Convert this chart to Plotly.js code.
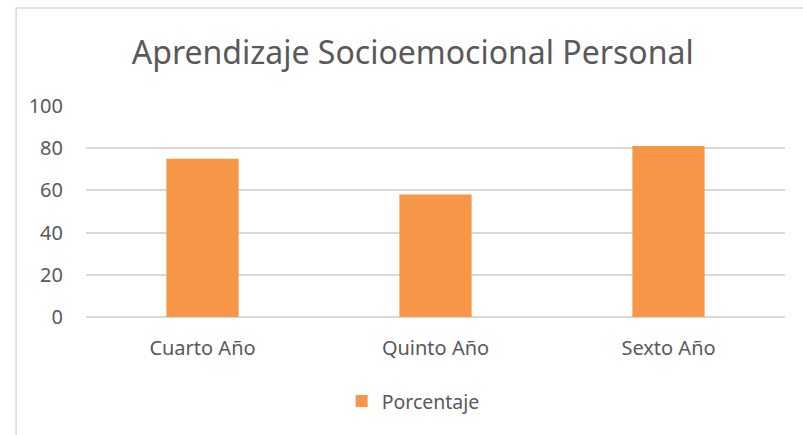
<!DOCTYPE html>
<html>
<head>
<meta charset="utf-8">
<script src="https://cdn.plot.ly/plotly-3.0.1.min.js"></script>
<style>html,body{margin:0;padding:0;background:#fff;}#chart{width:803px;height:435px;}</style>
</head>
<body>
<div id="chart"></div>
<script>
const categories = ["Cuarto Año", "Quinto Año", "Sexto Año"];
const porcentaje = [75, 58, 81];
const seriesName = "Porcentaje";
const yTicks = [0, 20, 40, 60, 80, 100];

const font = "Noto Sans, Open Sans, sans-serif";
const textColor = "#595959";

const trace = {
  type: "bar",
  x: categories,
  y: porcentaje,
  name: seriesName,
  marker: {color: "#F79646"},
  hoverinfo: "x+y"
};

const layout = {
  width: 803,
  height: 435,
  margin: {l: 86, r: 18, t: 106, b: 118},
  paper_bgcolor: "#fff",
  plot_bgcolor: "#fff",
  bargap: 0.69,
  showlegend: true,
  title: {
    text: "Aprendizaje Socioemocional Personal",
    font: {family: font, size: 32, color: textColor},
    x: 0.514, xanchor: "center",
    y: 0.878, yanchor: "middle"
  },
  xaxis: {
    type: "category",
    tickfont: {family: font, size: 20, color: textColor},
    showgrid: false,
    showline: false,
    ticks: "",
    ticklabelstandoff: 17,
    fixedrange: true
  },
  yaxis: {
    range: [0, 100],
    tickvals: yTicks,
    tickfont: {family: font, size: 20, color: textColor},
    gridcolor: "#d9d9d9",
    gridwidth: 1.5,
    zeroline: true,
    zerolinecolor: "#d9d9d9",
    zerolinewidth: 1.5,
    showline: false,
    ticks: "",
    ticklabelstandoff: 22,
    fixedrange: true
  },
  legend: {
    orientation: "h",
    x: 0.468, xanchor: "center",
    y: -0.4, yanchor: "middle",
    font: {family: font, size: 19.5, color: textColor},
    itemwidth: 30
  },
  shapes: [{
    type: "rect", xref: "paper", yref: "paper",
    x0: -0.1, x1: 1.2, y0: -1, y1: 1.464,
    line: {color: "#d9d9d9", width: 1.5},
    layer: "below"
  }]
};

Plotly.newPlot("chart", [trace], layout, {displayModeBar: false, staticPlot: false});
</script>
</body>
</html>
